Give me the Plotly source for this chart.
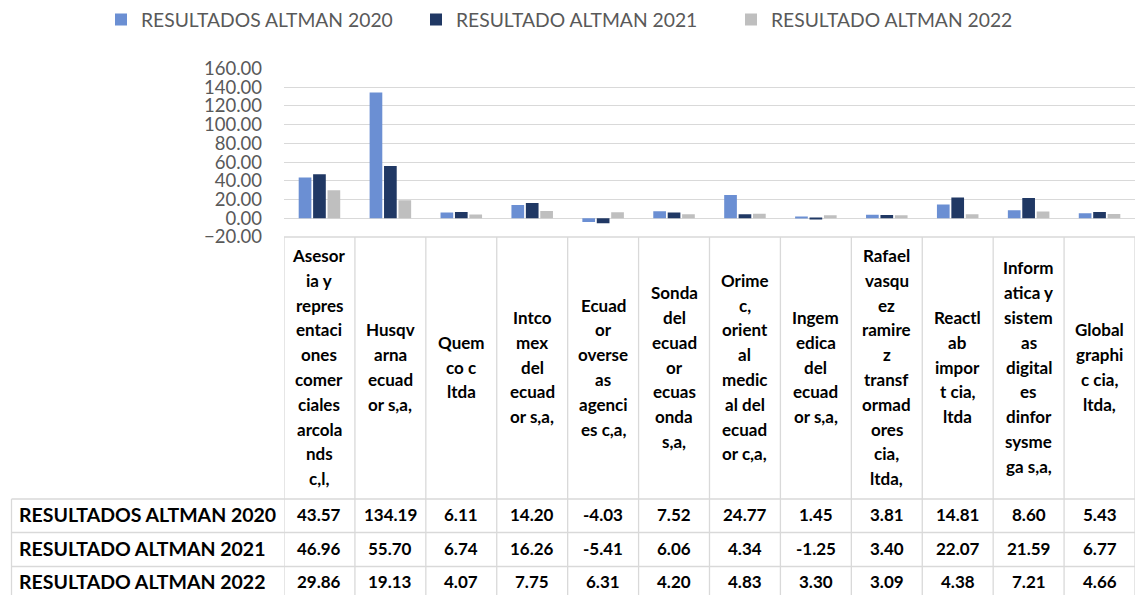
import plotly.graph_objects as go

W, H = 1138, 595

# ---------------- data ----------------
categories = [
    "Asesor\nia y\nrepres\nentaci\nones\ncomer\nciales\narcola\nnds\nc,l,",
    "Husqv\narna\necuad\nor s,a,",
    "Quem\nco c\nltda",
    "Intco\nmex\ndel\necuad\nor s,a,",
    "Ecuad\nor\noverse\nas\nagenci\nes c,a,",
    "Sonda\ndel\necuad\nor\necuas\nonda\ns,a,",
    "Orime\nc,\norient\nal\nmedic\nal del\necuad\nor c,a,",
    "Ingem\nedica\ndel\necuad\nor s,a,",
    "Rafael\nvasqu\nez\nramire\nz\ntransf\normad\nores\ncia,\nltda,",
    "Reactl\nab\nimpor\nt cia,\nltda",
    "Inform\natica y\nsistem\nas\ndigital\nes\ndinfor\nsysme\nga s,a,",
    "Global\ngraphi\nc cia,\nltda,",
]
series_names = ["RESULTADOS ALTMAN 2020", "RESULTADO ALTMAN 2021", "RESULTADO ALTMAN 2022"]
altman_2020 = [43.57, 134.19, 6.11, 14.20, -4.03, 7.52, 24.77, 1.45, 3.81, 14.81, 8.60, 5.43]
altman_2021 = [46.96, 55.70, 6.74, 16.26, -5.41, 6.06, 4.34, -1.25, 3.40, 22.07, 21.59, 6.77]
altman_2022 = [29.86, 19.13, 4.07, 7.75, 6.31, 4.20, 4.83, 3.30, 3.09, 4.38, 7.21, 4.66]
series_values = [altman_2020, altman_2021, altman_2022]
colors = ["#6B8FD3", "#203864", "#BFBFBF"]

# ---------------- layout helpers ----------------
def py(p):
    return 1 - p / H

def pxx(p):
    return p / W

FONT = "Lato"
GRID = "#D9D9D9"
x_idx = list(range(len(categories)))

fig = go.Figure()
for name, vals, col in zip(series_names, series_values, colors):
    fig.add_trace(go.Bar(
        x=x_idx, y=vals, name=name,
        marker=dict(color=col, line=dict(width=0)),
    ))

plot_left, plot_right = 284, 1135
plot_top, plot_bottom = 68.4, 237
table_rows = [499, 532.5, 566.5, 600]
label_left = 11.5

shapes = []
for i in range(len(categories) + 1):
    shapes.append(dict(type="line", xref="x", yref="paper",
                       x0=i - 0.5, x1=i - 0.5, y0=py(plot_bottom), y1=py(H),
                       line=dict(color=GRID, width=1.3)))
shapes.append(dict(type="line", xref="paper", yref="paper",
                   x0=pxx(plot_left), x1=pxx(plot_right), y0=py(plot_bottom), y1=py(plot_bottom),
                   line=dict(color=GRID, width=1.3)))
for r in table_rows[:-1]:
    shapes.append(dict(type="line", xref="paper", yref="paper",
                       x0=pxx(label_left), x1=pxx(plot_right), y0=py(r), y1=py(r),
                       line=dict(color=GRID, width=1.3)))
shapes.append(dict(type="line", xref="paper", yref="paper",
                   x0=pxx(label_left), x1=pxx(label_left), y0=py(table_rows[0]), y1=py(H),
                   line=dict(color=GRID, width=1.3)))

annotations = []
cell_center = (plot_bottom + table_rows[0]) / 2 - 1
line_h = 24.8
for i, cat in enumerate(categories):
    lines = cat.split("\n")
    n = len(lines)
    for k, ln in enumerate(lines):
        ypix = cell_center + (k - (n - 1) / 2) * line_h
        annotations.append(dict(xref="x", yref="paper", x=i, y=py(ypix),
                                text=ln, showarrow=False, xanchor="center", yanchor="middle",
                                font=dict(family=FONT, size=17, color="#000000", weight="bold")))
for r, (name, vals) in enumerate(zip(series_names, series_values)):
    yc = (table_rows[r] + table_rows[r + 1]) / 2 - 1.5
    annotations.append(dict(xref="paper", yref="paper", x=pxx(17), y=py(yc),
                            text=name, showarrow=False, xanchor="left", yanchor="middle",
                            font=dict(family=FONT, size=19.5, color="#000000", weight="bold")))
    for i, v in enumerate(vals):
        annotations.append(dict(xref="x", yref="paper", x=i, y=py(yc),
                                text=f"{v:.2f}", showarrow=False, xanchor="center", yanchor="middle",
                                font=dict(family=FONT, size=17, color="#000000", weight="bold")))

fig.update_layout(
    width=W, height=H,
    margin=dict(l=0, r=0, t=0, b=0, autoexpand=False),
    paper_bgcolor="white", plot_bgcolor="white",
    barmode="group", bargap=0.39, bargroupgap=0.12,
    font=dict(family=FONT, color="#595959"),
    showlegend=True,
    legend=dict(orientation="h", x=pxx(101), xanchor="left", y=py(20), yanchor="middle",
                font=dict(family=FONT, size=19.3, color="#595959"),
                entrywidth=270, entrywidthmode="pixels", traceorder="normal"),
    xaxis=dict(domain=[pxx(plot_left), pxx(plot_right)], range=[-0.5, len(categories) - 0.5],
               showticklabels=False, showgrid=False, zeroline=False, showline=False, fixedrange=True),
    yaxis=dict(domain=[py(plot_bottom), py(plot_top)], range=[-20, 160], dtick=20, tick0=0,
               tickformat=".2f", showgrid=True, gridcolor=GRID, gridwidth=1.3,
               zeroline=False, showline=False, ticks="",
               tickfont=dict(family=FONT, size=18.5, color="#595959"),
               ticklabelstandoff=21),
    shapes=shapes,
    annotations=annotations,
)

fig.write_html("out.html", config=dict(displayModeBar=False),
               post_script="document.body.style.margin='0';document.body.style.overflow='hidden';")
